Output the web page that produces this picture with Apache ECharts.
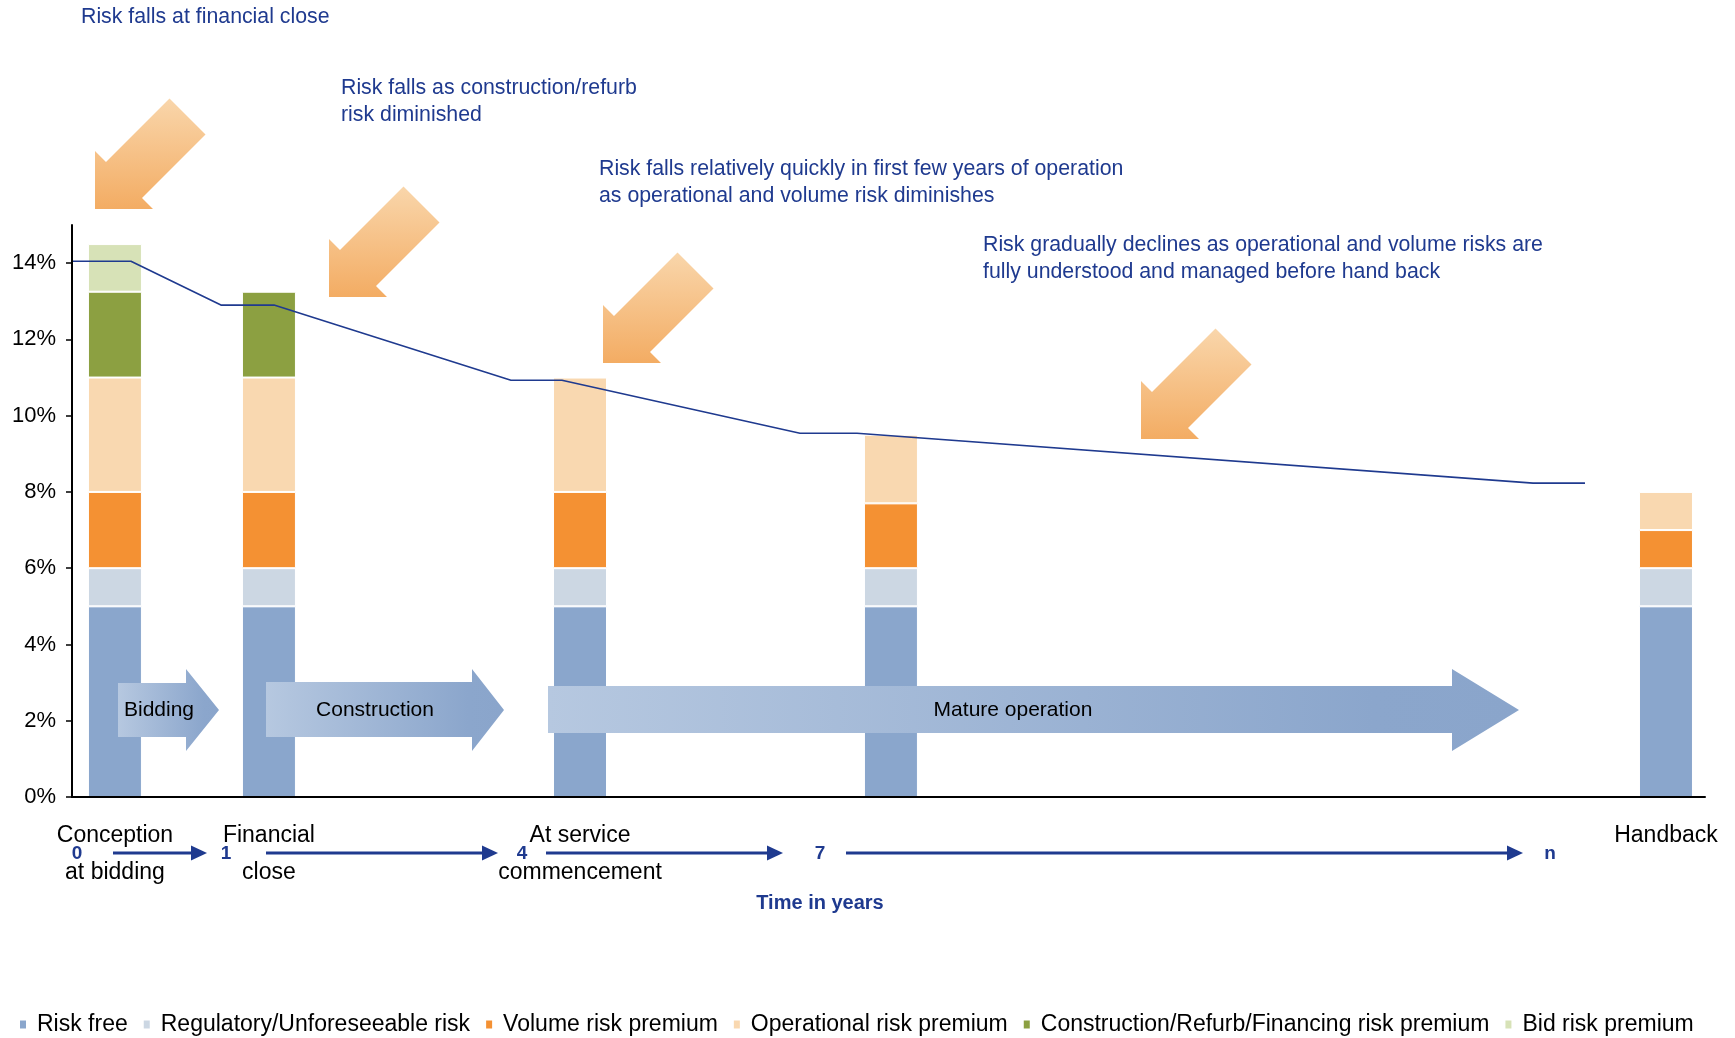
<!DOCTYPE html>
<html>
<head>
<meta charset="utf-8">
<title>Risk premium over the project life</title>
<script src="https://cdn.jsdelivr.net/npm/echarts@6.0.0/dist/echarts.min.js"></script>
<style>
html, body { margin: 0; padding: 0; background: #fff; }
#main { width: 1735px; height: 1038px; }
</style>
</head>
<body>
<div id="main"></div>
<script>
// where each stage bar sits on the (hidden) 0-100 timeline axis
const barPositions = [2.63, 12.06, 31.11, 50.15, 97.61];
const stageLabels = ['Conception\nat bidding', 'Financial\nclose', 'At service\ncommencement', '', 'Handback'];

// stacked risk components, % per stage
const riskFree = [5, 5, 5, 5, 5];
const regulatory = [1, 1, 1, 1, 1];
const volumeRisk = [2, 2, 2, 1.7, 1];
const operationalRisk = [3, 3, 3, 1.8, 1];
const constructionRisk = [2.25, 2.25, null, null, null];
const bidRisk = [1.25, null, null, null, null];

// overall cost of capital line
const lineX = [0, 3.61, 9.12, 12.37, 26.88, 30.0, 44.58, 48.07, 89.47, 92.65];
const lineY = [14.05, 14.05, 12.9, 12.9, 10.93, 10.93, 9.54, 9.54, 8.23, 8.23];

const yTicks = [0, 2, 4, 6, 8, 10, 12, 14];

const seriesDefs = [
  { name: 'Risk free', values: riskFree, color: '#8aa6cc' },
  { name: 'Regulatory/Unforeseeable risk', values: regulatory, color: '#ccd7e3' },
  { name: 'Volume risk premium', values: volumeRisk, color: '#f49133' },
  { name: 'Operational risk premium', values: operationalRisk, color: '#f9d8b0' },
  { name: 'Construction/Refurb/Financing risk premium', values: constructionRisk, color: '#8ca041' },
  { name: 'Bid risk premium', values: bidRisk, color: '#d7e2b7' }
];

const font = "'Liberation Sans', Arial, sans-serif";
const navy = '#1f3a8f';

// annotations (pixel positions)
const notes = [
  { text: 'Risk falls at financial close', x: 81, y: 4 },
  { text: 'Risk falls as construction/refurb\nrisk diminished', x: 341, y: 75 },
  { text: 'Risk falls relatively quickly in first few years of operation\nas operational and volume risk diminishes', x: 599, y: 156 },
  { text: 'Risk gradually declines as operational and volume risks are\nfully understood and managed before hand back', x: 983, y: 232 }
];
const bigArrowTips = [[95, 209], [329, 297], [603, 363], [1141, 439]];
const phases = [
  { text: 'Bidding', x0: 118, xh: 186, xt: 219, top: 683, bottom: 737, cx: 159 },
  { text: 'Construction', x0: 266, xh: 472, xt: 504, top: 682, bottom: 737, cx: 375 },
  { text: 'Mature operation', x0: 548, xh: 1452, xt: 1519, top: 686, bottom: 733, cx: 1013 }
];
const timeArrows = [[113, 207], [266, 498], [546, 783], [846, 1523]];
const timeMarks = [['0', 77], ['1', 226], ['4', 522], ['7', 820], ['n', 1550]];

const graphics = [];

notes.forEach(n => {
  graphics.push({
    type: 'text', x: n.x, y: n.y, z: 100,
    style: { text: n.text, fill: navy, fontSize: 21.3, fontFamily: font, lineHeight: 26.5, verticalAlign: 'top' }
  });
});

// orange "risk falls" arrows pointing down-left
bigArrowTips.forEach(t => {
  graphics.push({
    type: 'polygon', x: t[0], y: t[1], z: 100,
    shape: { points: [[0, 0], [58, 0], [47, -11], [110.5, -74.5], [74.5, -110.5], [11, -47], [0, -58]] },
    style: {
      fill: { type: 'linear', x: 0, y: 0, x2: 0, y2: 1,
        colorStops: [{ offset: 0, color: '#f9d6ab' }, { offset: 1, color: '#f3ac63' }] }
    }
  });
});

// phase arrows over the bars
phases.forEach(p => {
  const mid = (669 + 751) / 2;
  graphics.push({
    type: 'polygon', z: 100,
    shape: { points: [[p.x0, p.top], [p.xh, p.top], [p.xh, 669], [p.xt, mid], [p.xh, 751], [p.xh, p.bottom], [p.x0, p.bottom]] },
    style: {
      fill: { type: 'linear', x: 0, y: 0, x2: 1, y2: 0,
        colorStops: [{ offset: 0, color: '#b6c8e0' }, { offset: 0.85, color: '#8ba6cc' }, { offset: 1, color: '#8aa5cb' }] }
    }
  });
  graphics.push({
    type: 'text', x: p.cx, y: mid, z: 101,
    style: { text: p.text, fill: '#000', fontSize: 21, fontFamily: font, align: 'center', verticalAlign: 'middle' }
  });
});

// time line under the axis
timeArrows.forEach(a => {
  graphics.push({
    type: 'line', z: 100,
    shape: { x1: a[0], y1: 853, x2: a[1] - 12, y2: 853 },
    style: { stroke: navy, lineWidth: 3 }
  });
  graphics.push({
    type: 'polygon', z: 100,
    shape: { points: [[a[1] - 16, 845.5], [a[1], 853], [a[1] - 16, 860.5]] },
    style: { fill: navy }
  });
});
timeMarks.forEach(m => {
  graphics.push({
    type: 'text', x: m[1], y: 854, z: 100,
    style: { text: m[0], fill: navy, fontSize: 19, fontWeight: 'bold', fontFamily: font, align: 'center', verticalAlign: 'middle' }
  });
});
graphics.push({
  type: 'text', x: 820, y: 903, z: 100,
  style: { text: 'Time in years', fill: navy, fontSize: 20, fontWeight: 'bold', fontFamily: font, align: 'center', verticalAlign: 'middle' }
});

// value first, position second, so the stack runs on the y values
const series = seriesDefs.map(d => ({
  name: d.name,
  type: 'bar',
  stack: 'risk',
  barWidth: 54,
  silent: true,
  encode: { x: 1, y: 0 },
  itemStyle: { color: d.color, borderColor: '#fff', borderWidth: 1 },
  data: barPositions.map((x, i) => [d.values[i], x])
}));

series.push({
  name: 'Cost of capital',
  type: 'line',
  symbol: 'none',
  silent: true,
  z: 5,
  lineStyle: { color: navy, width: 1.6 },
  data: lineX.map((x, i) => [x, lineY[i]])
});

const chart = echarts.init(document.getElementById('main'));
chart.setOption({
  animation: false,
  backgroundColor: '#fff',
  textStyle: { fontFamily: font },
  grid: { left: 72, right: 30, top: 225, bottom: 241 },
  legend: {
    data: seriesDefs.map(d => d.name),
    left: 13,
    top: 1008,
    icon: 'rect',
    itemWidth: 8,
    itemHeight: 10,
    itemGap: 14,
    selectedMode: false,
    textStyle: { fontSize: 23, color: '#000', fontFamily: font, padding: [0, 0, 0, 5] }
  },
  xAxis: {
    type: 'value',
    min: 0,
    max: 100,
    z: 10,
    splitLine: { show: false },
    axisLine: { show: true, onZero: false, lineStyle: { color: '#000', width: 2 } },
    axisTick: { show: false },
    axisLabel: {
      customValues: barPositions.filter((p, i) => stageLabels[i] !== ''),
      formatter: v => {
        const i = barPositions.findIndex(p => Math.abs(p - v) < 0.01);
        return i >= 0 ? stageLabels[i] : '';
      },
      color: '#000',
      fontSize: 23,
      lineHeight: 37,
      margin: 20,
      fontFamily: font
    }
  },
  yAxis: {
    type: 'value',
    min: 0,
    max: 15,
    z: 10,
    splitLine: { show: false },
    axisLine: { show: true, lineStyle: { color: '#000', width: 2 } },
    axisTick: { show: true, customValues: yTicks, length: 6, lineStyle: { color: '#000', width: 1.5 } },
    axisLabel: {
      customValues: yTicks,
      formatter: '{value}%',
      color: '#000',
      fontSize: 22,
      margin: 16,
      fontFamily: font
    }
  },
  graphic: { elements: graphics },
  series: series
});
</script>
</body>
</html>
